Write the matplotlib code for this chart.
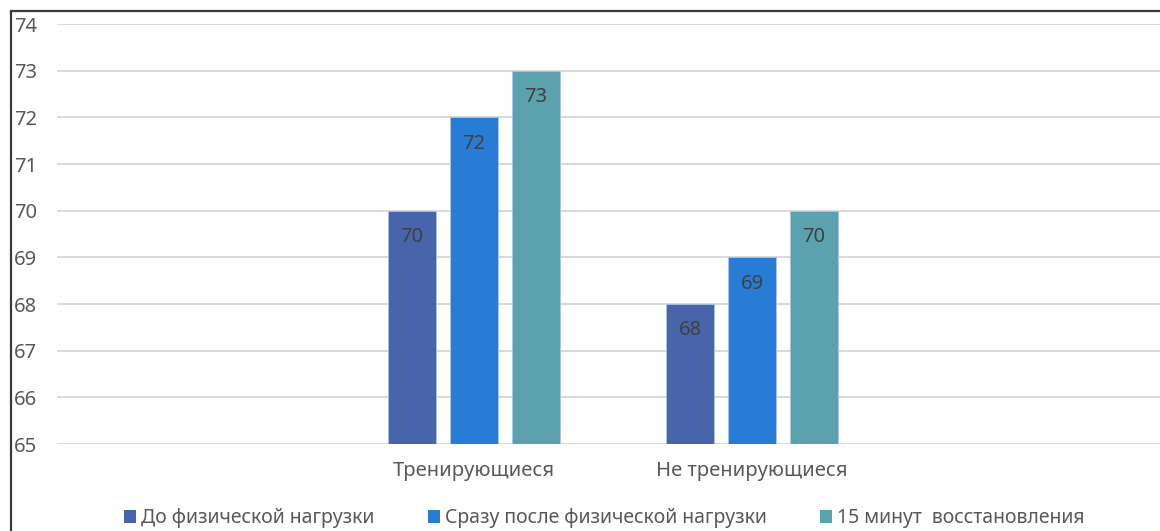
import numpy as np
import matplotlib.pyplot as plt
from matplotlib.patches import Patch, Rectangle

plt.rcParams['font.family'] = ['Noto Sans', 'DejaVu Sans']

# data
groups = ["", "Тренирующиеся", "Не тренирующиеся", ""]
series_names = ["До физической нагрузки",
                "Сразу после физической нагрузки",
                "15 минут  восстановления"]
before = [70, 68]
after = [72, 69]
recovery = [73, 70]
colors = ["#4865AC", "#297CD6", "#5BA2AE"]

W, H = 1160, 531
fig = plt.figure(figsize=(W / 100, H / 100), dpi=100)
fs = 14.5

# plot area in pixel terms
left, right, top, bottom = 57, 1160, 24, 444
ax = fig.add_axes([left / W, 1 - bottom / H, (right - left) / W, (bottom - top) / H])

# outer chart border (only left and top edges fall inside the canvas)
fig.patches.append(Rectangle((11 / W, -0.1), 1.2, 1 - 11 / H + 0.1,
                             transform=fig.transFigure, fill=False,
                             edgecolor="#3a3a3a", linewidth=1.6, zorder=0))

x = np.array([1, 2])
bw = 48 / 278
step = 62 / 278
for i, (vals, c) in enumerate(zip([before, after, recovery], colors)):
    pos = x + (i - 1) * step
    ax.bar(pos, np.array(vals) - 65, bottom=65, width=bw, color=c,
           edgecolor="#a9c6e8", linewidth=0.6, zorder=3)
    for xp, v in zip(pos, vals):
        ax.annotate(str(v), (xp, v), xytext=(0, -19), textcoords="offset points",
                    ha="center", va="center", fontsize=fs, color="#404040", zorder=4)

ax.set_ylim(65, 74)
ax.set_xlim(-0.5, -0.5 + (right - left) / 278)
ax.set_yticks(range(65, 75))
ax.set_yticklabels([str(v) for v in range(65, 75)])
for lab in ax.get_yticklabels():
    lab.set_ha("left")
ax.tick_params(axis="y", length=0, pad=(left - 14) * 0.72, labelsize=fs, labelcolor="#595959")
ax.set_xticks(x)
ax.set_xticklabels(groups[1:3])
ax.tick_params(axis="x", length=0, pad=12, labelsize=fs, labelcolor="#595959")
ax.grid(axis="y", color="#d9d9d9", linewidth=1.4, zorder=0)
ax.set_axisbelow(True)
for s in ax.spines.values():
    s.set_visible(False)

handles = [Patch(facecolor=c) for c in colors]
fig.legend(handles, series_names, loc="center", bbox_to_anchor=(0.521, 0.024),
           ncol=3, frameon=False, fontsize=14, labelcolor="#595959",
           handlelength=0.62, handleheight=0.62, handletextpad=0.25,
           columnspacing=2.75, borderpad=0.1)

fig.savefig("out.png", dpi=100)
